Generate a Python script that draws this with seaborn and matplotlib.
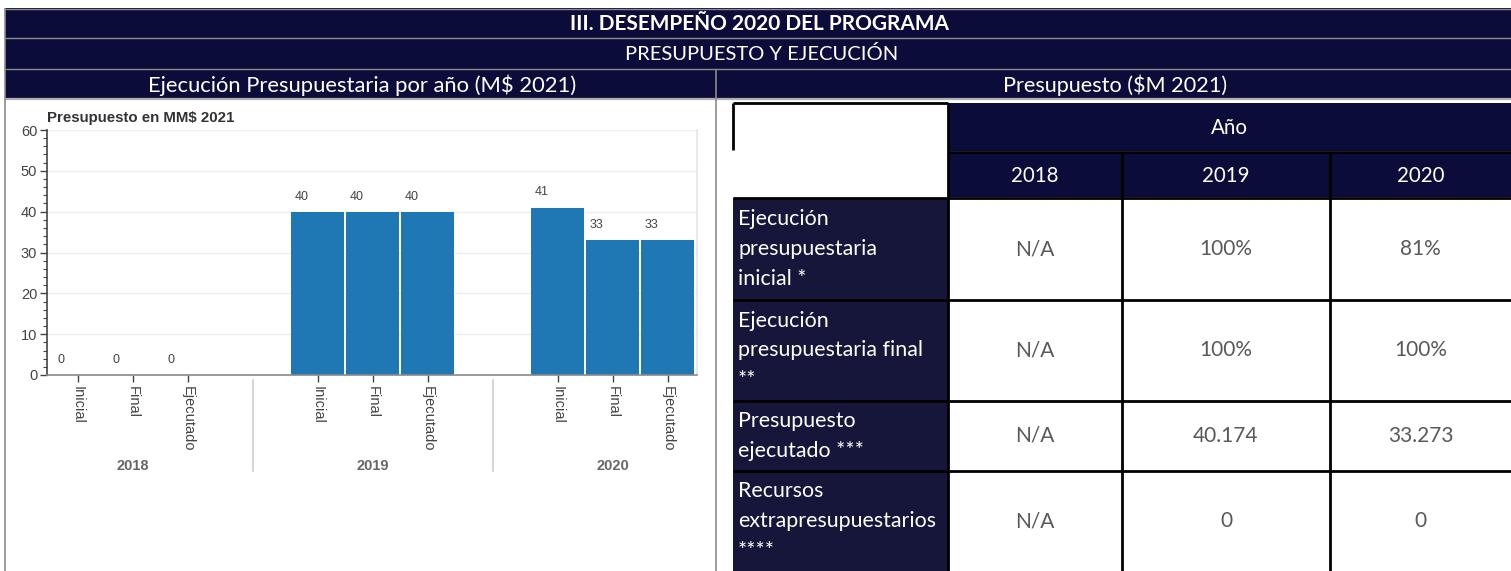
import numpy as np
import pandas as pd
import matplotlib.pyplot as plt
import matplotlib.transforms as mtransforms
from matplotlib.patches import Rectangle
from matplotlib.ticker import MultipleLocator
import seaborn as sns

# datos del gráfico
years = ['2018', '2019', '2020']
stages = ['Inicial', 'Final', 'Ejecutado']
budget_2018 = [0, 0, 0]
budget_2019 = [40, 40, 40]
budget_2020 = [41, 33, 33]

# datos de la tabla
row_labels = ['Ejecución\npresupuestaria\ninicial *',
              'Ejecución\npresupuestaria final\n**',
              'Presupuesto\nejecutado ***',
              'Recursos\nextrapresupuestarios\n****']
col_2018 = ['N/A', 'N/A', 'N/A', 'N/A']
col_2019 = ['100%', '100%', '40.174', '0']
col_2020 = ['81%', '100%', '33.273', '0']

title_main = 'III. DESEMPEÑO 2020 DEL PROGRAMA'
title_sub = 'PRESUPUESTO Y EJECUCIÓN'
title_left = 'Ejecución Presupuestaria por año (M$ 2021)'
title_right = 'Presupuesto ($M 2021)'
chart_title = 'Presupuesto en MM$ 2021'
year_header = 'Año'

NAVY = '#0c0c3b'
LABEL_NAVY = '#16163a'
BLUE = '#1f77b4'
GRAY_TXT = '#595959'
TABLE_FONT = ['Lato', 'DejaVu Sans']
CHART_FONT = ['Liberation Sans', 'DejaVu Sans']

sns.set_theme(style='white')
plt.rcParams['font.family'] = CHART_FONT

W, H = 1511, 571
fig = plt.figure(figsize=(W / 100, H / 100), dpi=100)
bg = fig.add_axes([0, 0, 1, 1])
bg.set_xlim(0, W)
bg.set_ylim(H, 0)
bg.axis('off')


def box(x0, y0, x1, y1, color):
    bg.add_patch(Rectangle((x0, y0), x1 - x0, y1 - y0, facecolor=color,
                           edgecolor='none', zorder=1))


def hline(y, x0, x1, color, lw):
    bg.plot([x0, x1], [y, y], color=color, lw=lw, solid_capstyle='butt', zorder=3)


def vline(x, y0, y1, color, lw):
    bg.plot([x, x], [y0, y1], color=color, lw=lw, solid_capstyle='butt', zorder=3)


# cabeceras
box(5, 8, W, 99, NAVY)
hline(8.5, 5, W, '#8c8c8c', 1)
hline(38, 5, W, '#8c8c8c', 1)
hline(69, 5, W, '#8c8c8c', 1)
hline(99, 5, W, '#b0b0b0', 1.6)
vline(5, 8, H, '#8c8c8c', 1.2)
vline(716, 69, H, '#8c8c8c', 1.2)

bg.text(760, 24, title_main, color='white', ha='center', va='center',
        fontsize=15, fontweight='bold', family=TABLE_FONT, zorder=4)
bg.text(762, 54, title_sub, color='white', ha='center', va='center',
        fontsize=14.5, family=TABLE_FONT, zorder=4)
bg.text(362, 85, title_left, color='white', ha='center', va='center',
        fontsize=15.8, family=TABLE_FONT, zorder=4)
bg.text(1115, 85, title_right, color='white', ha='center', va='center',
        fontsize=15.6, family=TABLE_FONT, zorder=4)

# tabla
col_x = [733, 948, 1122, 1330, W]
row_y = [198, 300, 401, 471, H]
box(948, 103, W, 151, NAVY)
box(948, 152, W, 197, NAVY)
box(733, 198, 948, H, LABEL_NAVY)

bg.text((948 + W) / 2, 128, year_header, color='white', ha='center', va='center',
        fontsize=14.8, family=TABLE_FONT, zorder=4)
for j, yr in enumerate(years):
    bg.text((col_x[j + 1] + col_x[j + 2]) / 2, 176, yr, color='white', ha='center',
            va='center', fontsize=14.8, family=TABLE_FONT, zorder=4)

columns = [col_2018, col_2019, col_2020]
for i, lab in enumerate(row_labels):
    yc = (row_y[i] + row_y[i + 1]) / 2
    bg.text(738, yc, lab, color='white', ha='left', va='center', fontsize=15.4,
            family=TABLE_FONT, linespacing=1.6, zorder=4)
    for j, col in enumerate(columns):
        bg.text((col_x[j + 1] + col_x[j + 2]) / 2, yc, col[i], color=GRAY_TXT,
                ha='center', va='center', fontsize=15, family=TABLE_FONT, zorder=4)

BLK = 2.0
hline(103, 733, 948, 'black', BLK)
vline(733, 103, 150, 'black', BLK)
vline(948, 103, H, 'black', BLK)
hline(152, 948, W, 'black', BLK)
for x in col_x[2:4]:
    vline(x, 152, H, 'black', BLK)
for y in row_y[:-1]:
    hline(y, 733, W, 'black', BLK)

# gráfico de barras
gap = 240 / 55 - len(stages)
df = pd.DataFrame({
    'year': np.repeat(years, len(stages)),
    'stage': stages * len(years),
    'value': budget_2018 + budget_2019 + budget_2020,
})
df['pos'] = [g * (len(stages) + gap) + i for g in range(len(years)) for i in range(len(stages))]

ax = fig.add_axes([47 / W, (H - 375) / H, 650 / W, 245 / H])
ax.set_zorder(5)
sns.barplot(data=df, x='pos', y='value', native_scale=True, orient='x', width=0.96,
            color=BLUE, saturation=1, errorbar=None, linewidth=0, ax=ax)

ax.set_xlim(df['pos'].iloc[0] - 0.56, df['pos'].iloc[-1] + 0.53)
ax.set_ylim(0, 60)
ax.set_xlabel('')
ax.set_ylabel('')
ax.yaxis.set_major_locator(MultipleLocator(10))
ax.yaxis.set_minor_locator(MultipleLocator(2))
ax.set_xticks(df['pos'])
ax.set_xticklabels(df['stage'], rotation=270, va='top', ha='center')
ax.tick_params(axis='y', which='major', direction='out', length=5, width=1,
               color='#444444', labelcolor='#444444', labelsize=10.5, pad=2, left=True)
ax.tick_params(axis='y', which='minor', direction='out', length=3, width=0.8,
               color='#444444', left=True)
ax.tick_params(axis='x', direction='out', length=5, width=1, color='#444444',
               labelcolor='#444444', labelsize=10.5, pad=3, bottom=True)
ax.grid(axis='y', color='#eeeeee', lw=1)
ax.set_axisbelow(True)
ax.spines['top'].set_visible(False)
ax.spines['left'].set_color('#444444')
ax.spines['bottom'].set_color('#888888')
ax.spines['right'].set_color('#e6e6e6')
for s in ['left', 'bottom']:
    ax.spines[s].set_linewidth(1.2)

for p, v in zip(df['pos'], df['value']):
    ax.text(p - 0.3, v + 3.7, str(v), ha='center', va='center', fontsize=9,
            color='#444444')

ax.text(0.0, 1.05, chart_title, transform=ax.transAxes, ha='left', va='center',
        fontsize=10.8, fontweight='bold', color='#333333')

trans = mtransforms.blended_transform_factory(ax.transData, ax.transAxes)
for g, yr in enumerate(years):
    grp = df.loc[df['year'] == yr, 'pos']
    ax.text(grp.mean(), -0.37, yr, transform=trans, ha='center', va='center',
            fontsize=10.5, fontweight='bold', color='#666666')
    if g > 0:
        sep = (grp.iloc[0] + df.loc[df['year'] == years[g - 1], 'pos'].iloc[-1]) / 2
        ax.plot([sep, sep], [-0.02, -0.39], transform=trans, color='#d6d6d6',
                lw=1.5, clip_on=False)

fig.savefig('out.png', dpi=100)
